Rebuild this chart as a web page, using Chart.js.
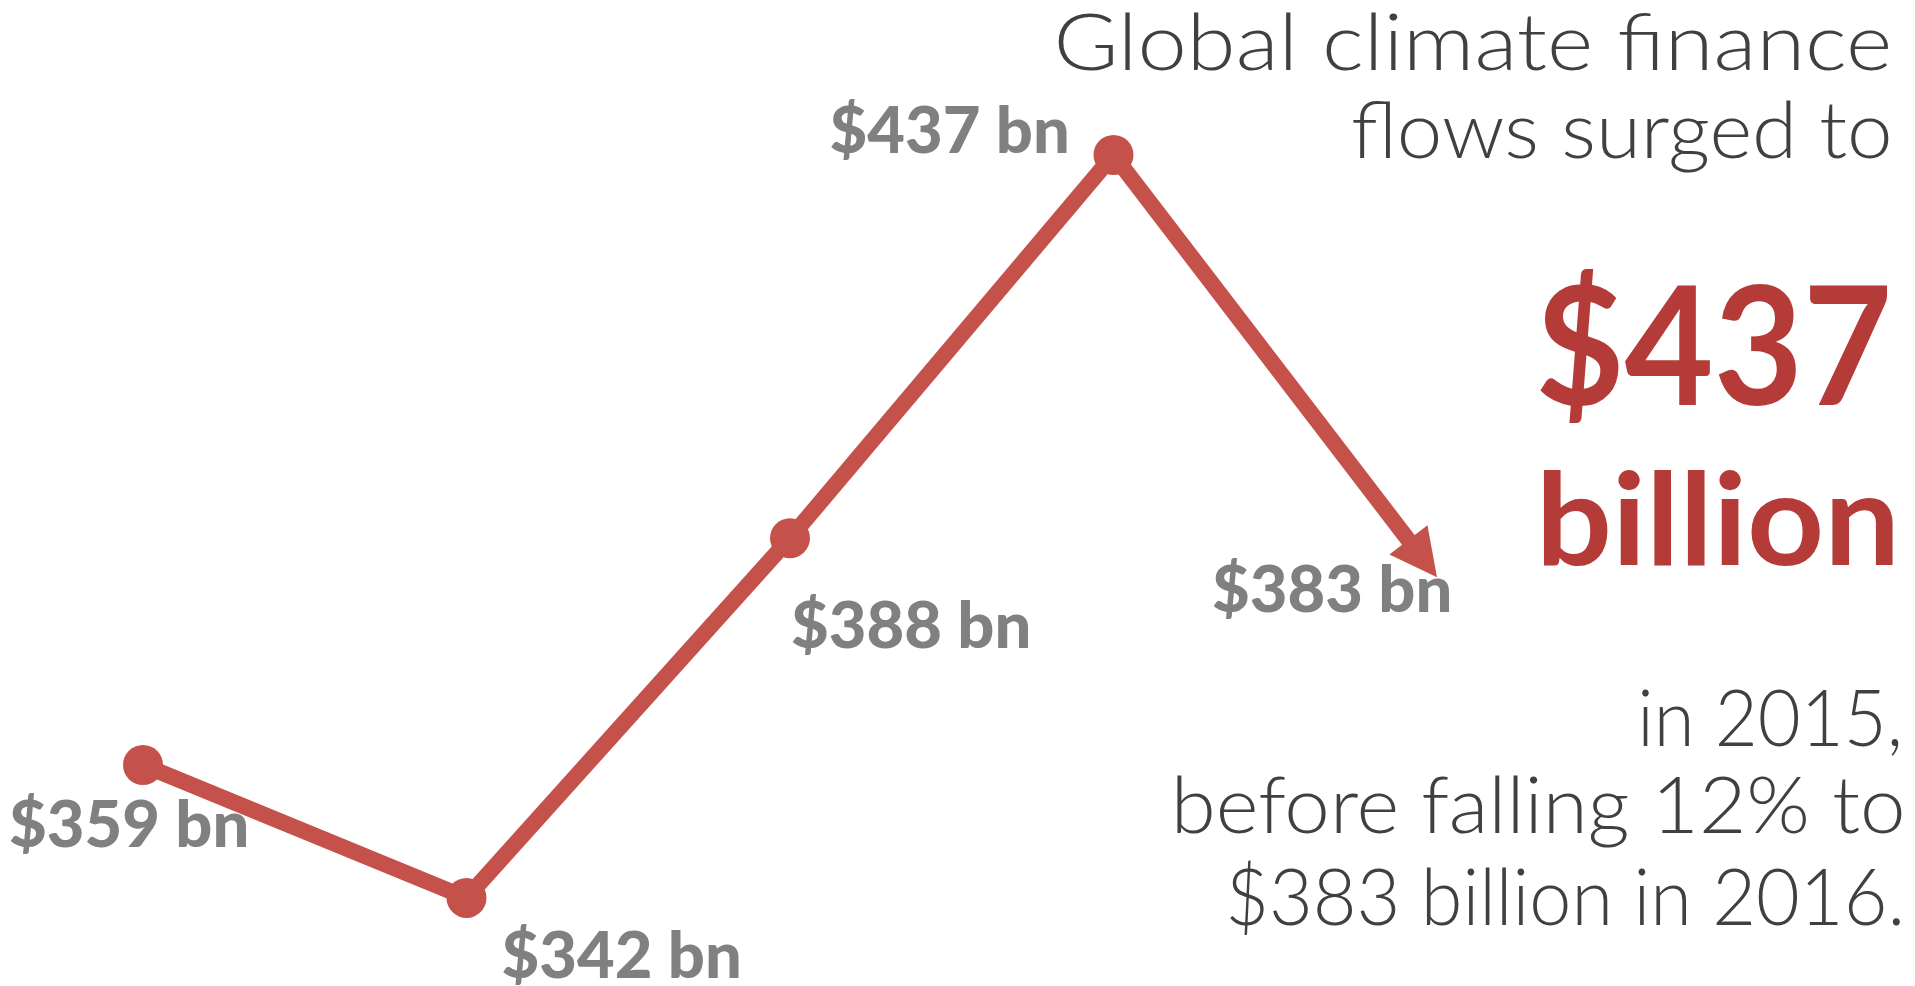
<!DOCTYPE html>
<html>
<head>
<meta charset="utf-8">
<title>Global climate finance flows</title>
<script src="https://cdn.jsdelivr.net/npm/chart.js@4.4.1/dist/chart.umd.min.js"></script>
<style>
  html, body { margin: 0; padding: 0; background: #fff; overflow: hidden; }
  #wrap { position: relative; width: 1915px; height: 986px; }
</style>
</head>
<body>
<div id="wrap"><canvas id="flows"></canvas></div>
<script>
// climate finance flows, USD billion
const years = ["2012", "2013", "2014", "2015", "2016"];
const flows = [359, 342, 388, 437, 383];
const valueLabels = flows.map(v => "$" + v + " bn");

// where each value label sits relative to its point: [dx of text centre, dy of baseline]
const labelOffsets = [[-15, 82], [154, 80], [120, 110], [-165, -2], [-106, 35]];

const LINE_RED = "#c5524a";
const TEXT_RED = "#b43b38";
const DARK = "#404040";
const GREY = "#808080";

// draw text so its ink spans left..right on the given baseline
function fitText(ctx, text, left, right, baseline, font, color) {
  ctx.save();
  ctx.font = font;
  const m = ctx.measureText(text);
  const ink = m.actualBoundingBoxLeft + m.actualBoundingBoxRight;
  const s = (right - left) / ink;
  ctx.translate(left + m.actualBoundingBoxLeft * s, baseline);
  ctx.scale(s, 1);
  ctx.fillStyle = color;
  ctx.textAlign = "left";
  ctx.textBaseline = "alphabetic";
  ctx.fillText(text, 0, 0);
  ctx.restore();
}

function arrowGeometry(meta) {
  const pts = meta.data;
  const tip = pts[pts.length - 1], prev = pts[pts.length - 2];
  const dx = tip.x - prev.x, dy = tip.y - prev.y;
  const len = Math.hypot(dx, dy);
  const ux = dx / len, uy = dy / len;
  return { tip, ux, uy, px: -uy, py: ux, headLen: 47, headHalf: 24 };
}

const arrowAndLabels = {
  id: "arrowAndLabels",
  beforeDatasetDraw(chart) {
    // keep the square line end from poking out past the arrow head
    const g = arrowGeometry(chart.getDatasetMeta(0));
    const bx = g.tip.x - g.ux * (g.headLen - 6), by = g.tip.y - g.uy * (g.headLen - 6);
    const ctx = chart.ctx, R = 5000;
    ctx.save();
    ctx.beginPath();
    ctx.moveTo(bx + g.px * R, by + g.py * R);
    ctx.lineTo(bx - g.px * R, by - g.py * R);
    ctx.lineTo(bx - g.px * R - g.ux * R, by - g.py * R - g.uy * R);
    ctx.lineTo(bx + g.px * R - g.ux * R, by + g.py * R - g.uy * R);
    ctx.closePath();
    ctx.clip();
  },
  afterDatasetDraw(chart) {
    chart.ctx.restore();
  },
  afterDatasetsDraw(chart) {
    const ctx = chart.ctx;
    const meta = chart.getDatasetMeta(0);
    const g = arrowGeometry(meta);
    const bx = g.tip.x - g.ux * g.headLen, by = g.tip.y - g.uy * g.headLen;

    ctx.save();
    ctx.fillStyle = LINE_RED;
    ctx.beginPath();
    ctx.moveTo(g.tip.x, g.tip.y);
    ctx.lineTo(bx + g.px * g.headHalf, by + g.py * g.headHalf);
    ctx.lineTo(bx - g.px * g.headHalf, by - g.py * g.headHalf);
    ctx.closePath();
    ctx.fill();
    ctx.restore();

    meta.data.forEach((pt, i) => {
      const [dx, dy] = labelOffsets[i];
      const cx = pt.x + dx;
      fitText(ctx, valueLabels[i], cx - 118, cx + 118, pt.y + dy, "900 64px Lato", GREY);
    });

    // headline block on the right
    const light = "300 78px Lato";
    fitText(ctx, "Global climate finance", 1058, 1888, 70, light, DARK);
    fitText(ctx, "flows surged to", 1353, 1889, 158, light, DARK);
    fitText(ctx, "$437", 1540, 1888, 405, "bold 165px Lato", TEXT_RED);
    fitText(ctx, "billion", 1543, 1893, 565, "bold 129px Lato", TEXT_RED);
    fitText(ctx, "in 2015,", 1642, 1899, 746, light, DARK);
    fitText(ctx, "before falling 12% to", 1177, 1902, 833, light, DARK);
    fitText(ctx, "$383 billion in 2016.", 1230, 1900, 925, light, DARK);
  }
};

new Chart(document.getElementById("flows"), {
  type: "line",
  data: {
    labels: years,
    datasets: [{
      data: flows,
      borderColor: LINE_RED,
      borderWidth: 16,
      borderCapStyle: "butt",
      borderJoinStyle: "round",
      tension: 0,
      fill: false,
      clip: false,
      pointRadius: flows.map((v, i) => i === flows.length - 1 ? 0 : 20),
      pointBackgroundColor: LINE_RED,
      pointBorderWidth: 0,
      pointHoverRadius: 0
    }]
  },
  options: {
    responsive: true,
    maintainAspectRatio: false,
    animation: false,
    events: [],
    // the point radius reserves 20px above and below the plot area
    layout: { padding: { left: 143, right: 478, top: 0, bottom: 0 } },
    plugins: { legend: { display: false }, tooltip: { enabled: false }, title: { display: false } },
    scales: {
      x: { type: "category", offset: false, display: false },
      y: { type: "linear", min: 333.3, max: 454.25, display: false }
    }
  },
  plugins: [arrowAndLabels]
});
</script>
</body>
</html>
